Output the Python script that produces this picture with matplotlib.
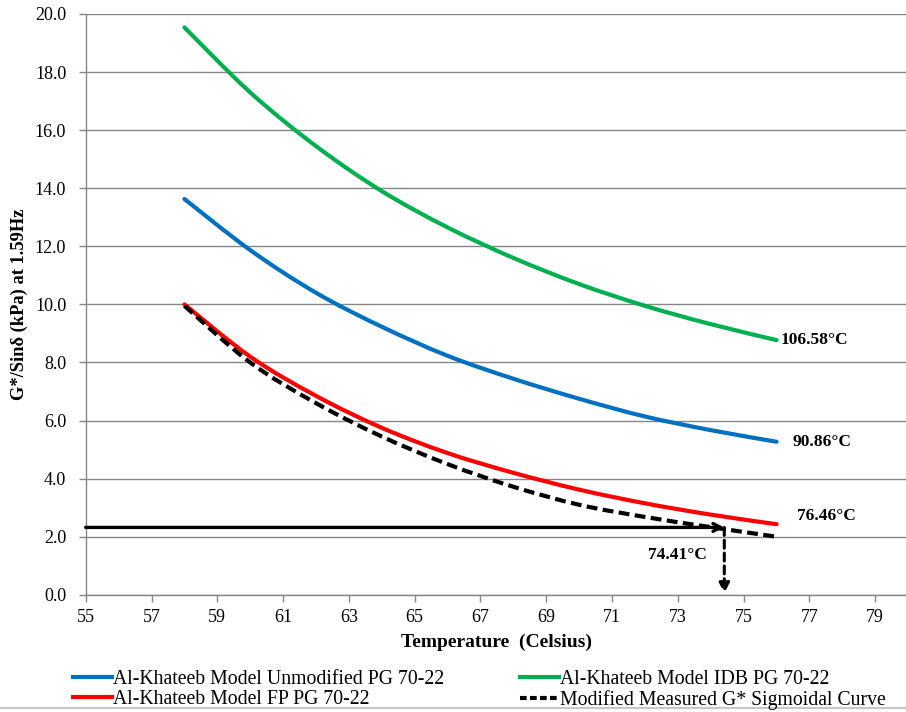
import matplotlib
matplotlib.use("Agg")
import matplotlib.pyplot as plt
from matplotlib.lines import Line2D
from matplotlib.path import Path
from matplotlib.patches import PathPatch

# Temperatures (Celsius) at which each curve is evaluated
temperature = [58, 60, 62, 64, 66, 68, 70, 72, 74, 76]

# G*/sin(delta) in kPa at 1.59 Hz
unmodified = [13.63, 11.87, 10.40, 9.23, 8.23, 7.44, 6.75, 6.14, 5.67, 5.27]
idb = [19.54, 17.30, 15.45, 13.90, 12.65, 11.60, 10.70, 9.95, 9.32, 8.77]
fp = [10.00, 8.20, 6.85, 5.75, 4.88, 4.20, 3.62, 3.15, 2.76, 2.43]
measured = [9.95, 8.00, 6.60, 5.45, 4.50, 3.72, 3.10, 2.68, 2.33, 2.00]

series_labels = [
    "Al-Khateeb Model Unmodified PG 70-22",
    "Al-Khateeb Model IDB PG 70-22",
    "Al-Khateeb Model FP PG 70-22",
    "Modified Measured G* Sigmoidal Curve",
]

# Extrapolated temperatures written at the end of each curve
end_labels = ["106.58\u00b0C", "90.86\u00b0C", "76.46\u00b0C"]
# Criterion line and the temperature where it meets the measured curve
criterion_kpa = 2.32
crossing_temp = 74.41
crossing_label = "74.41\u00b0C"

x_ticks = list(range(55, 80, 2))
y_ticks = [0, 2, 4, 6, 8, 10, 12, 14, 16, 18, 20]

plt.rcParams["font.family"] = ["Liberation Serif", "DejaVu Serif"]


def smooth_path(xs, ys):
    """Cubic Bezier path through the points (spreadsheet-style smoothed line)."""
    pts = list(zip(xs, ys))
    n = len(pts)
    verts = [pts[0]]
    codes = [Path.MOVETO]
    for i in range(n - 1):
        p0 = pts[i - 1] if i > 0 else pts[i]
        p1 = pts[i]
        p2 = pts[i + 1]
        p3 = pts[i + 2] if i + 2 < n else pts[i + 1]
        c1 = (p1[0] + (p2[0] - p0[0]) / 6, p1[1] + (p2[1] - p0[1]) / 6)
        c2 = (p2[0] - (p3[0] - p1[0]) / 6, p2[1] - (p3[1] - p1[1]) / 6)
        verts += [c1, c2, p2]
        codes += [Path.CURVE4] * 3
    return Path(verts, codes)


def draw_curve(ax, xs, ys, **kw):
    patch = PathPatch(smooth_path(xs, ys), fill=False, **kw)
    ax.add_patch(patch)
    return patch


fig = plt.figure(figsize=(9.06, 7.12), dpi=100)
ax = fig.add_axes([85.7 / 906, 1 - 594.8 / 712, (908.2 - 85.7) / 906, (594.8 - 14) / 712])

blue = "#0070C0"
green = "#00B050"
red = "#FF0000"

draw_curve(ax, temperature, unmodified, edgecolor=blue, lw=3.0, capstyle="round", zorder=3)
draw_curve(ax, temperature, idb, edgecolor=green, lw=3.0, capstyle="round", zorder=3)
draw_curve(ax, temperature, fp, edgecolor=red, lw=3.0, capstyle="round", zorder=3)
draw_curve(ax, temperature, measured, edgecolor="black", lw=3.0, ls=(0, (2.6, 1.3)),
           capstyle="butt", zorder=4)

# Criterion arrow to the measured curve, then down to the temperature axis
ax.annotate("", xy=(crossing_temp, criterion_kpa), xytext=(55, criterion_kpa),
            arrowprops=dict(arrowstyle="->,head_length=0.55,head_width=0.28",
                            color="black", lw=2.4, shrinkA=0, shrinkB=0), zorder=5)
ax.annotate("", xy=(crossing_temp, 0.05), xytext=(crossing_temp, criterion_kpa),
            arrowprops=dict(arrowstyle="-|>,head_length=0.6,head_width=0.3",
                            color="black", lw=2.2, ls=(0, (2.6, 1.6)),
                            shrinkA=0, shrinkB=0), zorder=5)

lab_kw = dict(fontsize=12.5, fontweight="bold", va="center", ha="left")
ax.text(temperature[-1] + 0.13, idb[-1], end_labels[0], **lab_kw)
ax.text(temperature[-1] + 0.47, unmodified[-1], end_labels[1], **lab_kw)
ax.text(temperature[-1] + 0.62, fp[-1] + 0.3, end_labels[2], **lab_kw)
ax.text(crossing_temp - 0.53, 1.37, crossing_label, fontsize=12.5, fontweight="bold",
        va="center", ha="right")

ax.set_xlim(55, 80)
ax.set_ylim(0, 20)
ax.set_xticks(x_ticks)
ax.set_yticks(y_ticks)
ax.set_yticklabels([f"{v:.1f}" for v in y_ticks])
ax.tick_params(axis="both", labelsize=13, direction="out", length=5, width=1,
               color="#868686")
ax.tick_params(axis="y", pad=9)
ax.tick_params(axis="x", pad=5)

ax.grid(axis="y", color="#868686", lw=1.0)
ax.set_axisbelow(True)
for side in ("top", "right"):
    ax.spines[side].set_visible(False)
for side in ("left", "bottom"):
    ax.spines[side].set_color("#868686")
    ax.spines[side].set_linewidth(1.0)

ax.set_xlabel("Temperature  (Celsius)", fontsize=14, fontweight="bold", labelpad=6)
ax.set_ylabel("G*/Sin\u03b4 (kPa) at 1.59Hz", fontsize=13.3, fontweight="bold", labelpad=5)

handles = [
    Line2D([], [], color=blue, lw=3.0),
    Line2D([], [], color=red, lw=3.0),
    Line2D([], [], color=green, lw=3.0),
    Line2D([], [], color="black", lw=3.0, ls=(0, (1.6, 0.8))),
]
labels = [series_labels[0], series_labels[2], series_labels[1], series_labels[3]]
fig.legend(handles, labels, ncol=2, loc="center left",
           bbox_to_anchor=(73 / 906, 1 - 690 / 712),
           frameon=False, fontsize=14.2, handlelength=2.0, handletextpad=0.05,
           columnspacing=3.8, labelspacing=0.05, borderpad=0, borderaxespad=0)

fig.add_artist(Line2D([0, 1], [1 - 708 / 712, 1 - 708 / 712], color="#c8c8c8", lw=1.5,
                      transform=fig.transFigure))

fig.savefig("out.png", dpi=100)
